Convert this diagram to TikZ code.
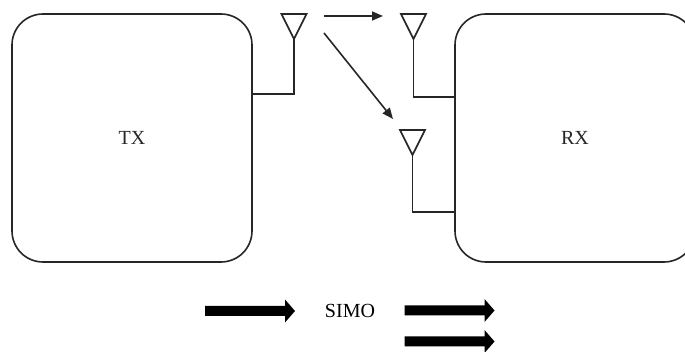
\documentclass[tikz,border=0pt]{standalone}
\usepackage{fontspec}
\setmainfont{Liberation Serif}
\usetikzlibrary{calc,arrows.meta}
\def\antenna(#1){\draw[wire] ($(#1)+(-12.5,-25)$) -- ($(#1)+(12.5,-25)$) -- (#1) -- cycle;}
\def\fatarrow(#1){\fill[black] ($(#1)+(-45,5)$) -- ++(80,0) -- ++(0,6.5) -- ($(#1)+(45,0)$) -- ($(#1)+(35,-11.5)$) -- ++(0,6.5) -- ($(#1)+(-45,-5)$) -- cycle;}
\tikzset{
	wire/.style={line width=1.6pt, color=black!85},
	unit/.style={wire, draw, rounded corners=31pt, minimum width=240pt, minimum height=248pt, font=\fontsize{20}{24}\selectfont},
	link/.style={wire, -{Triangle[length=11pt,width=9pt]}}
}
\begin{document}
\begin{tikzpicture}[x=1pt, y=-1pt]
			%%%%% START %%%%%
			\useasboundingbox (0, 0) rectangle (685, 352);
			\clip (0, 0) rectangle (685, 352);
			
			\node[unit] (tx) at (132, 138) {TX};
			\node[unit] (rx) at (575, 138) {RX};
			
			\coordinate (txa) at (294, 39);
			\coordinate (txfeed) at (252, 94);
			\antenna(txa);
			\draw[wire] (txa) |- (txfeed);
			
			\coordinate (rxa1) at (413.5, 39);
			\coordinate (rxfeed1) at (455, 97);
			\antenna(rxa1);
			\draw[wire] (rxa1) |- (rxfeed1);
			
			\coordinate (rxa2) at (412.5, 155);
			\coordinate (rxfeed2) at (455, 212);
			\antenna(rxa2);
			\draw[wire] (rxa2) |- (rxfeed2);
			
			\coordinate (ray1s) at (324, 16);
			\coordinate (ray1e) at (383, 16);
			\coordinate (ray2s) at (324, 33);
			\coordinate (ray2e) at (393, 119);
			\draw[link] (ray1s) -- (ray1e);
			\draw[link] (ray2s) -- (ray2e);
			
			\fatarrow(250, 311);
			\node[font=\fontsize{20}{24}\selectfont] (simo) at (350, 311) {SIMO};
			\fatarrow(449.5, 310.5);
			\fatarrow(449.5, 341.5);
			%%%%% END %%%%%
\end{tikzpicture}
\end{document}
